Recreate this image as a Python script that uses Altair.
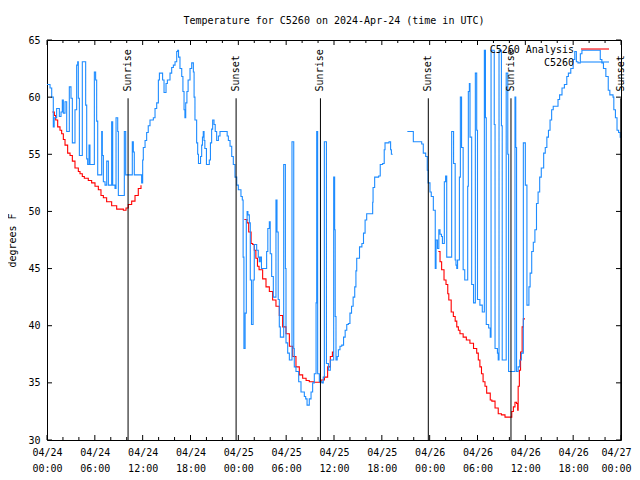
import altair as alt
import pandas as pd

# hours since 2024-04-24 00:00 UTC, temperature degF
blue_seg1 = [
    (0.0, 61.1), (0.38, 60.8), (0.59, 60.0), (0.79, 57.4), (0.9, 58.2), (1.21, 59.0),
    (1.55, 58.3), (1.76, 58.7), (1.92, 59.75), (2.05, 58.6), (2.26, 59.6), (2.47, 57.0),
    (2.8, 60.9), (3.01, 59.9), (3.18, 56.0), (3.51, 58.9), (3.72, 62.8), (3.85, 63.1),
    (3.93, 59.9), (4.06, 54.9), (4.43, 63.1), (4.85, 59.3), (4.98, 54.6), (5.1, 54.1),
    (5.27, 55.8), (5.39, 54.1), (5.94, 62.2), (6.1, 61.5), (6.23, 57.9), (6.36, 53.2),
    (6.86, 57.0), (6.94, 54.9), (7.07, 52.6), (7.28, 52.3), (7.49, 54.4), (7.7, 52.3),
    (8.11, 57.85), (8.24, 52.3), (8.53, 52.0), (8.66, 58.2), (8.87, 57.0), (8.95, 51.4),
    (9.7, 57.0), (9.87, 53.2), (10.7, 56.1), (10.83, 55.2), (10.95, 53.2), (11.87, 52.5),
    (12.0, 54.5), (12.08, 55.6), (12.3, 56.2), (12.5, 56.9), (12.7, 57.5), (12.92, 58.0),
    (13.34, 58.2), (13.55, 59.0), (13.76, 59.5), (13.97, 61.5), (14.1, 62.1), (14.5, 61.5),
    (14.68, 60.4), (14.93, 61.2), (15.1, 61.5), (15.43, 62.1), (15.64, 62.6), (15.85, 62.8),
    (16.06, 63.1), (16.27, 64.0), (16.39, 64.1), (16.5, 63.5), (16.68, 62.5), (16.9, 61.8),
    (17.05, 60.5), (17.19, 58.9), (17.3, 58.2), (17.4, 59.5), (17.55, 60.5), (17.7, 61.5),
    (17.94, 62.5), (18.15, 63.0), (18.36, 62.2), (18.45, 60.0), (18.56, 58.0), (18.77, 56.0),
    (18.9, 55.0), (19.0, 54.2), (19.26, 54.8), (19.4, 55.8), (19.5, 56.5), (19.6, 57.0),
    (19.7, 56.2), (19.8, 55.5), (20.0, 54.1), (20.36, 54.5), (20.5, 56.0), (20.65, 57.2),
    (20.78, 58.0), (20.95, 57.6), (21.1, 57.0), (21.28, 56.2), (21.5, 56.6), (21.7, 57.0),
    (22.5, 57.0), (22.6, 56.6), (22.75, 56.2), (22.96, 55.7), (23.17, 54.8), (23.37, 54.1),
    (23.58, 53.0), (23.8, 52.3), (24.0, 51.9), (24.33, 51.3), (24.5, 51.0),
    (24.6, 46.0), (24.7, 38.0), (24.85, 41.1), (25.0, 49.25), (25.1, 50.0), (25.2, 49.7),
    (25.38, 49.0), (25.5, 44.0), (25.65, 40.1), (25.85, 44.0), (26.0, 47.1), (26.3, 46.6),
    (26.5, 46.0), (26.63, 45.6), (26.75, 46.0), (26.9, 45.0), (27.55, 46.5), (27.7, 48.5),
    (27.89, 49.1), (28.0, 46.3), (28.18, 44.3), (28.39, 42.5), (28.72, 51.0), (28.85, 48.2),
    (29.0, 42.3), (29.14, 39.9), (29.27, 39.0), (29.69, 54.1), (29.9, 45.0), (29.98, 38.5),
    (30.19, 37.6), (30.4, 37.0), (30.73, 56.1), (30.95, 38.0), (31.02, 36.4), (31.23, 36.0),
    (31.57, 35.1), (31.86, 34.2), (32.28, 33.8), (32.45, 33.6), (32.62, 33.05), (32.9, 33.6),
    (33.12, 34.2), (33.32, 35.0), (33.53, 35.8), (33.75, 42.0), (33.83, 57.0), (33.95, 35.8),
    (34.16, 35.1), (34.5, 35.0), (34.65, 35.5), (34.79, 56.1), (35.05, 36.7), (35.3, 36.1),
    (35.54, 37.0), (35.96, 53.0), (36.08, 48.4), (36.15, 40.8), (36.25, 37.0), (36.4, 37.3),
    (36.55, 37.9), (36.75, 38.2), (36.97, 38.3), (37.2, 39.0), (37.4, 39.6), (37.6, 40.1),
    (37.8, 40.2), (38.0, 41.1), (38.2, 41.7), (38.4, 42.5), (38.6, 43.4), (38.75, 44.8),
    (38.85, 45.9), (39.2, 46.9), (39.5, 47.2), (39.7, 48.1), (39.9, 49.25), (40.1, 49.8),
    (40.6, 49.8), (40.85, 50.8), (40.9, 52.1), (41.1, 53.0), (41.6, 53.1), (41.8, 54.1),
    (42.1, 54.2), (42.3, 55.4), (42.4, 56.0), (42.9, 56.1), (43.1, 55.4), (43.2, 55.0),
    (43.36, 55.0),
]

blue_seg2 = [
    (45.2, 57.0), (45.95, 56.1), (47.0, 55.9), (47.2, 55.1), (47.5, 54.8), (47.7, 53.6),
    (47.8, 52.5), (48.04, 51.7), (48.2, 51.3), (48.46, 50.1), (48.7, 45.0), (48.8, 47.5),
    (48.98, 46.75), (49.15, 48.4), (49.3, 48.0), (49.48, 47.8), (49.6, 47.2), (49.84, 52.6),
    (50.0, 53.1), (50.14, 46.0), (50.76, 57.0), (51.0, 54.2), (51.2, 45.75), (51.3, 45.3),
    (51.4, 45.0), (51.5, 45.75), (51.73, 53.0), (51.85, 60.0), (52.0, 55.6), (52.2, 44.9),
    (52.4, 44.0), (52.77, 52.2), (52.85, 60.5), (52.98, 61.2), (53.06, 56.5), (53.27, 43.6),
    (53.5, 42.0), (53.73, 62.1), (53.9, 57.1), (54.0, 42.3), (54.3, 41.8), (54.6, 41.2),
    (54.86, 64.1), (55.0, 58.2), (55.1, 40.1), (55.4, 39.8), (55.6, 39.0), (55.7, 64.1),
    (56.1, 57.6), (56.2, 38.0), (56.5, 37.6), (56.6, 37.0), (56.7, 64.1), (57.0, 57.5),
    (57.1, 37.0), (57.6, 62.1), (57.8, 55.0), (57.9, 36.0), (58.7, 60.0), (58.8, 55.6),
    (58.9, 36.0), (59.1, 36.4), (59.3, 37.0), (59.5, 37.6), (59.75, 56.0), (60.0, 52.3),
    (60.2, 41.8), (60.45, 43.4), (60.6, 44.6), (60.8, 46.5), (61.0, 47.3), (61.2, 48.4),
    (61.4, 50.7), (61.6, 51.7), (61.8, 53.0), (62.0, 53.8), (62.3, 55.1), (62.5, 55.6),
    (62.7, 56.5), (62.9, 57.1), (63.1, 58.0), (63.3, 58.9), (63.5, 59.2), (64.1, 59.8),
    (64.3, 60.2), (64.6, 60.8), (64.9, 61.1), (65.2, 61.8), (65.4, 62.1), (65.7, 62.5),
    (66.0, 63.3), (66.2, 64.0), (66.4, 63.1), (66.6, 63.0), (66.9, 63.8), (67.1, 64.1),
    (69.2, 64.1), (69.4, 63.3), (69.6, 63.0), (69.8, 62.5), (70.1, 61.8), (70.4, 60.6),
    (70.6, 60.2), (71.0, 60.0), (71.1, 58.9), (71.3, 58.2), (71.5, 57.1), (71.7, 56.9),
    (71.9, 56.5), (72.0, 56.5),
]

red_night1 = [
    (0.67, 58.7), (0.92, 58.4), (1.09, 58.0), (1.34, 57.4), (1.63, 57.1), (1.84, 56.8),
    (2.05, 56.3), (2.26, 55.8), (2.59, 55.1), (2.89, 54.9), (3.18, 54.4), (3.51, 53.8),
    (3.93, 53.5), (4.14, 53.3), (4.43, 53.05), (4.68, 52.9), (5.18, 52.7), (5.6, 52.5),
    (6.02, 52.2), (6.44, 51.9), (6.77, 51.4), (7.07, 51.2), (7.48, 50.85), (8.11, 50.5),
    (8.74, 50.2), (9.58, 50.1), (9.91, 50.3), (10.2, 50.6), (10.62, 50.9), (11.04, 51.4),
    (11.45, 52.0), (11.79, 52.3),
]

red_night2 = [
    (24.75, 49.3), (25.09, 49.0), (25.3, 48.2), (25.6, 47.2), (25.8, 47.1), (26.0, 46.6),
    (26.2, 45.9), (26.4, 45.2), (26.6, 44.9), (27.05, 44.1), (27.47, 43.4), (27.89, 43.0),
    (28.3, 42.25), (28.72, 41.7), (29.14, 40.9), (29.56, 39.9), (29.98, 39.3), (30.4, 38.2),
    (30.82, 37.3), (31.23, 36.4), (31.65, 35.7), (32.07, 35.4), (32.5, 35.2), (32.9, 35.1),
    (33.5, 35.05), (33.95, 35.05), (34.37, 35.25), (34.8, 35.5), (35.2, 36.4), (35.54, 37.3),
    (35.8, 37.7), (36.0, 37.7),
]

red_night3 = [
    (49.09, 46.5), (49.3, 45.6), (49.5, 44.9), (49.8, 44.0), (50.05, 43.6), (50.27, 42.8),
    (50.4, 42.25), (50.7, 41.2), (50.97, 40.8), (51.2, 40.4), (51.4, 39.9), (51.6, 39.6),
    (51.8, 39.3), (52.2, 39.0), (52.6, 38.75), (53.05, 38.46), (53.5, 38.0), (53.9, 37.6),
    (54.1, 37.0), (54.3, 36.4), (54.5, 35.8), (54.7, 35.1), (54.94, 34.7), (55.15, 34.1),
    (55.6, 33.5), (55.8, 33.4), (56.2, 32.8), (56.6, 32.3), (57.0, 32.2), (57.45, 32.0),
    (58.1, 32.0), (58.3, 32.5), (58.5, 32.9), (58.7, 33.3), (58.9, 33.2), (59.04, 32.6),
    (59.1, 34.7), (59.25, 36.1), (59.4, 37.7), (59.6, 39.9), (59.75, 40.6), (59.96, 40.6),
]

sun_hours = [10.17, 23.72, 34.3, 47.83, 58.2, 71.97]
sun_labels = ["Sunrise", "Sunset", "Sunrise", "Sunset", "Sunrise", "Sunset"]

legend_names = ["C5260 Analysis", "C5260"]

x_label_values = list(range(0, 73, 6))
y_label_values = list(range(30, 66, 5))

FONT = "DejaVu Sans Mono"
BLUE = "#1e8cff"
RED = "#ff0000"


def frame(pairs, seg):
    return pd.DataFrame({"h": [p[0] for p in pairs], "v": [p[1] for p in pairs], "seg": seg})


blue_df = pd.concat([frame(blue_seg1, 1), frame(blue_seg2, 2)], ignore_index=True)
red_df = pd.concat([frame(red_night1, 1), frame(red_night2, 2), frame(red_night3, 3)],
                   ignore_index=True)
sun_df = pd.DataFrame({"h": sun_hours, "label": sun_labels})
one_row = pd.DataFrame({"k": [0]})

label_expr = ("['04/' + (24 + floor(datum.value / 24)), "
              "(datum.value % 24 < 10 ? '0' : '') + (datum.value % 24) + ':00']")

X = alt.X("h:Q", scale=alt.Scale(domain=[0, 72], nice=False, zero=False),
          axis=alt.Axis(values=x_label_values, labelExpr=label_expr, title=None,
                        ticks=False, domain=False, grid=False, labelFont=FONT,
                        labelFontSize=10, labelPadding=7, labelLineHeight=16,
                        labelFlush=False, labelOverlap=False, labelColor="black",
                        labelOffset={"condition": {"test": "datum.value == 72", "value": -5},
                                     "value": 0}))
Y = alt.Y("v:Q", scale=alt.Scale(domain=[30, 65], nice=False, zero=False),
          axis=alt.Axis(values=y_label_values, title="degrees F", ticks=False,
                        domain=False, grid=False, labelFont=FONT, labelFontSize=10,
                        labelPadding=7, labelColor="black", titleFont=FONT,
                        titleFontSize=10, titleFontWeight="normal", titleColor="black",
                        titlePadding=10))

blue = alt.Chart(blue_df).mark_line(interpolate="step-after", color=BLUE,
                                    strokeWidth=1.1, clip=True).encode(
    x=X, y=Y, detail="seg:N")
red = alt.Chart(red_df).mark_line(interpolate="step-after", color=RED,
                                  strokeWidth=1.1, clip=True).encode(
    x=X, y=Y, detail="seg:N")

sun_rules = alt.Chart(sun_df).mark_rule(color="black", strokeWidth=1).encode(
    x=X, y=alt.datum(59.9), y2=alt.datum(30))
sun_text = alt.Chart(sun_df).mark_text(angle=270, align="left", baseline="middle",
                                       font=FONT, fontSize=10, color="black").encode(
    x=X, y=alt.datum(60.5), text="label:N")

# tick marks (inward, mirrored)
major_x = pd.DataFrame({"h": list(range(0, 73, 6))})
minor_x = pd.DataFrame({"h": [t for t in range(0, 73, 2) if t % 6 != 0]})
ticks_y = pd.DataFrame({"v": list(range(30, 66, 5))})

tick_layers = []
for df, ln in ((major_x, 5), (minor_x, 3)):
    tick_layers.append(alt.Chart(df).mark_rule(color="black").encode(
        x=X, y=alt.value(400), y2=alt.value(400 - ln)))
    tick_layers.append(alt.Chart(df).mark_rule(color="black").encode(
        x=X, y=alt.value(0), y2=alt.value(ln)))
tick_layers.append(alt.Chart(ticks_y).mark_rule(color="black").encode(
    y=Y, x=alt.value(0), x2=alt.value(5)))
tick_layers.append(alt.Chart(ticks_y).mark_rule(color="black").encode(
    y=Y, x=alt.value(574), x2=alt.value(569)))

# legend (gnuplot style, inside top-right)
leg_text1 = alt.Chart(one_row).mark_text(align="right", baseline="middle", font=FONT,
                                         fontSize=10, color="black").encode(
    x=alt.value(527), y=alt.value(10), text=alt.value(legend_names[0]))
leg_text2 = alt.Chart(one_row).mark_text(align="right", baseline="middle", font=FONT,
                                         fontSize=10, color="black").encode(
    x=alt.value(527), y=alt.value(22.5), text=alt.value(legend_names[1]))
leg_line1 = alt.Chart(one_row).mark_rule(color=RED, strokeWidth=1.1).encode(
    x=alt.value(534), x2=alt.value(562), y=alt.value(9))
leg_line2 = alt.Chart(one_row).mark_rule(color=BLUE, strokeWidth=1.1).encode(
    x=alt.value(534), x2=alt.value(562), y=alt.value(22))

chart = alt.layer(
    red, blue, sun_rules, sun_text, *tick_layers, leg_text1, leg_text2, leg_line1, leg_line2
).properties(
    width=574, height=400,
    title=alt.TitleParams("Temperature for C5260 on 2024-Apr-24 (time in UTC)", font=FONT,
                          fontSize=10, fontWeight="normal", color="black", anchor="middle",
                          offset=9),
    autosize=alt.AutoSizeParams(type="none"),
    padding={"left": 39, "top": 32, "right": 11, "bottom": 32},
    background="white",
).configure_view(stroke="black", strokeWidth=1)

chart.save("out.html", embed_options={"renderer": "svg", "actions": False})
